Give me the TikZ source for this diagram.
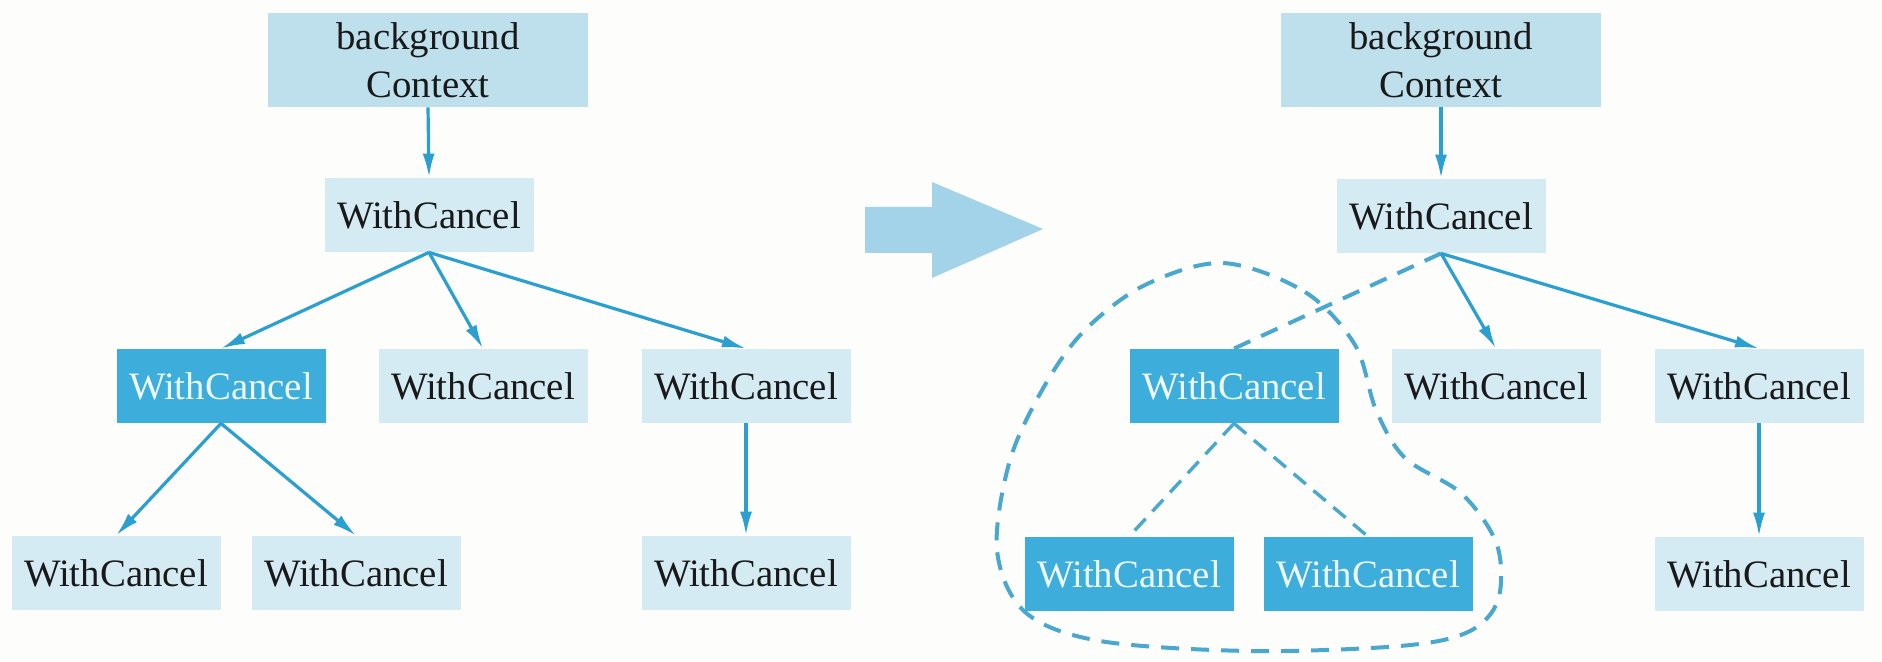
\documentclass[tikz,border=0pt]{standalone}
\usepackage{fontspec}
\setmainfont{Liberation Serif}
\usetikzlibrary{arrows.meta}
\definecolor{lightbox}{HTML}{D5EBF3}
\definecolor{bgbox}{HTML}{BEE0EC}
\definecolor{darkbox}{HTML}{3DAEDB}
\definecolor{edgecol}{HTML}{2A9FD0}
\definecolor{dashcol}{HTML}{4AA8CF}
\definecolor{bigarrow}{HTML}{A3D3E8}
\definecolor{paper}{HTML}{FDFDFC}
\begin{document}
\begin{tikzpicture}[x=0.5pt,y=-0.5pt,
  lbox/.style={fill=lightbox, minimum width=104.5pt, minimum height=37pt, inner sep=0pt,
    text=black!90, font=\fontsize{19.4}{24}\selectfont},
  dbox/.style={lbox, fill=darkbox, text=white!92!darkbox},
  bgnode/.style={lbox, fill=bgbox, minimum width=160pt, minimum height=47pt, align=center},
  conn/.style={draw=edgecol, line width=1.6pt, -{Latex[length=12pt,width=6pt]}},
  dconn/.style={draw=dashcol, line width=1.7pt, dash pattern=on 8pt off 5pt},
  loopline/.style={draw=dashcol, line width=2pt, dash pattern=on 9pt off 6pt}]

\fill[paper] (0,0) rectangle (1882,662);
\useasboundingbox (0,0) rectangle (1882,662);

% ---------- left tree ----------
\node[bgnode] (bgL) at (428,60) {background\\Context};
\node[lbox] (topL) at (429,215) {WithCancel};
\node[dbox] (aL) at (221,386) {WithCancel};
\node[lbox] (bL) at (483,386) {WithCancel};
\node[lbox] (cL) at (746,386) {WithCancel};
\node[lbox] (aaL) at (116,573) {WithCancel};
\node[lbox] (abL) at (356,573) {WithCancel};
\node[lbox] (caL) at (746,573) {WithCancel};

\draw[conn] (bgL.south) -- (topL.north);
\draw[conn] (topL.south) -- (aL.north);
\draw[conn] (topL.south) -- (bL.north);
\draw[conn] (topL.south) -- (cL.north);
\draw[conn] (aL.south) -- (aaL.north);
\draw[conn] (aL.south) -- (abL.north);
\draw[conn] (cL.south) -- (caL.north);

% ---------- big arrow ----------
\fill[bigarrow] (865,207) -- (932,207) -- (932,182) -- (1043,229) -- (932,278) -- (932,253) -- (865,253) -- cycle;

% ---------- right tree ----------
\node[bgnode] (bgR) at (1441,60) {background\\Context};
\node[lbox] (topR) at (1441,216) {WithCancel};
\node[dbox] (aR) at (1234,386) {WithCancel};
\node[lbox] (bR) at (1496,386) {WithCancel};
\node[lbox] (cR) at (1759,386) {WithCancel};
\node[dbox] (aaR) at (1129,574) {WithCancel};
\node[dbox] (abR) at (1368,574) {WithCancel};
\node[lbox] (caR) at (1759,574) {WithCancel};

\draw[conn] (bgR.south) -- (topR.north);
\draw[loopline] (topR.south) -- (aR.north);
\draw[conn] (topR.south) -- (bR.north);
\draw[conn] (topR.south) -- (cR.north);
\draw[dconn] (aR.south) -- (aaR.north);
\draw[dconn] (aR.south) -- (abR.north);
\draw[conn] (cR.south) -- (caR.north);

% ---------- dashed loop around cancelled subtree ----------
\draw[loopline] plot[smooth cycle, tension=0.55] coordinates {
  (1223,263) (1305,292) (1355,345) (1376,410) (1405,458) (1462,494)
  (1497,545) (1498,600) (1468,632) (1400,646) (1250,651) (1100,641)
  (1025,612) (997,550) (1010,460) (1045,385) (1085,330) (1145,285)};
\end{tikzpicture}
\end{document}
